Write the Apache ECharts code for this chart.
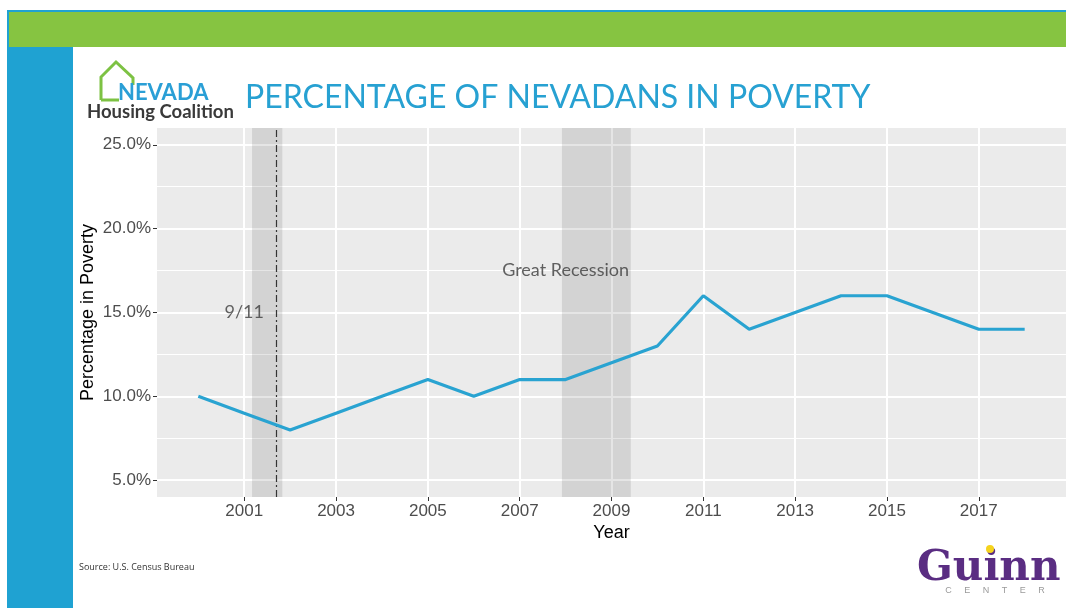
<!DOCTYPE html>
<html>
<head>
<meta charset="utf-8">
<script src="https://cdn.jsdelivr.net/npm/echarts@6/dist/echarts.min.js"></script>
<style>
  html, body { margin: 0; padding: 0; background: #fff; }
</style>
</head>
<body>
<div id="main" style="width: 1066px;height:608px;"></div>

<script type="text/javascript">
// data
var years = [2000, 2001, 2002, 2003, 2004, 2005, 2006, 2007, 2008, 2009,
             2010, 2011, 2012, 2013, 2014, 2015, 2016, 2017, 2018];
var poverty = [10, 9, 8, 9, 10, 11, 10, 11, 11, 12,
               13, 16, 14, 15, 16, 16, 15, 14, 14];
var yearTicks = [2001, 2003, 2005, 2007, 2009, 2011, 2013, 2015, 2017];
var pctTicks = [5, 10, 15, 20, 25];
var pctMinor = [7.5, 12.5, 17.5, 22.5];
// recession periods (fraction of year) and the 9/11 marker
var recessions = [[2001.17, 2001.83], [2007.92, 2009.42]];
var attackYear = 2001.69;
var noteText = ['9/11', 'Great Recession'];
var noteYear = [2001, 2008];
var notePct = [15, 17.5];

var myChart = echarts.init(document.getElementById('main'));

var lineData = years.map(function (y, i) { return [y, poverty[i]]; });
var notes = noteText.map(function (t, i) {
	return { name: t, value: [noteYear[i], notePct[i]] };
});

option = {
	animation: false,
	backgroundColor: '#fff',
	graphic: [
		// slide frame
		{ type: 'rect', z: -10, shape: { x: 7, y: 10, width: 1059, height: 598 }, style: { fill: '#1fa2d2' } },
		{ type: 'rect', z: -9, shape: { x: 9, y: 12, width: 1057, height: 35 }, style: { fill: '#86c441' } },
		{ type: 'rect', z: -9, shape: { x: 73, y: 47, width: 993, height: 561 }, style: { fill: '#fff' } },
		// Nevada Housing Coalition logo
		{ type: 'polyline', shape: { points: [[101, 100], [101, 77], [116, 62], [133, 78], [133, 85]] },
		  style: { stroke: '#7dc243', lineWidth: 3, fill: null } },
		{ type: 'polyline', shape: { points: [[101, 100], [119, 100]] },
		  style: { stroke: '#7dc243', lineWidth: 3, fill: null } },
		{ type: 'text', x: 118, y: 93, style: { text: 'NEVADA', fill: '#2a9fd6', font: 'bold 22px Lato', textVerticalAlign: 'middle' } },
		{ type: 'text', x: 87, y: 112, style: { text: 'Housing Coalition', fill: '#3a3a3a', font: 'bold 18.5px Lato', textVerticalAlign: 'middle' } },
		// title
		{ type: 'text', x: 245, y: 98, style: { text: 'PERCENTAGE OF NEVADANS IN POVERTY', fill: '#27a1d2', font: '32px Lato', textVerticalAlign: 'middle' } },
		// source
		{ type: 'text', x: 79, y: 567, style: { text: 'Source: U.S. Census Bureau', fill: '#333', font: '9px "Open Sans"', textVerticalAlign: 'middle' } },
		// Guinn Center logo
		{ type: 'text', x: 917, y: 569, style: { text: 'Guinn', fill: '#5a2d82', font: 'bold 42px "DejaVu Serif"', textVerticalAlign: 'middle' } },
		{ type: 'circle', shape: { cx: 990, cy: 549, r: 4 }, style: { fill: '#f5d31d' } },
		{ type: 'text', x: 995, y: 591, style: { text: 'C     E     N     T     E     R', fill: '#9a9a9a', font: '9px "Liberation Sans"', textAlign: 'center', textVerticalAlign: 'middle' } }
	],
	grid: {
		left: 157,
		top: 128,
		width: 910,
		height: 369,
		show: true,
		backgroundColor: '#ebebeb',
		borderWidth: 0
	},
	xAxis: {
		type: 'value',
		min: 1999.1,
		max: 2018.9,
		name: 'Year',
		nameLocation: 'middle',
		nameGap: 27,
		nameMoveOverlap: false,
		nameTextStyle: { fontSize: 18, color: '#000', fontFamily: 'Liberation Sans' },
		axisLine: { show: false },
		axisTick: { show: true, customValues: yearTicks, length: 4, lineStyle: { color: '#333' } },
		axisLabel: {
			customValues: yearTicks, fontSize: 17, color: '#4d4d4d', fontFamily: 'Liberation Sans', margin: 6,
			formatter: function (v) { return String(v); }
		},
		splitLine: { show: true, lineStyle: { color: '#fff', width: 2 } }
	},
	yAxis: [{
		type: 'value',
		min: 4,
		max: 26,
		name: 'Percentage in Poverty',
		nameLocation: 'middle',
		nameRotate: 90,
		nameGap: 60,
		nameMoveOverlap: false,
		nameTextStyle: { fontSize: 18, color: '#000', fontFamily: 'Liberation Sans' },
		axisLine: { show: false },
		axisTick: { show: true, customValues: pctTicks, length: 4, lineStyle: { color: '#333' } },
		axisLabel: {
			customValues: pctTicks, fontSize: 17, color: '#4d4d4d', fontFamily: 'Liberation Sans', margin: 6,
			formatter: function (v) { return v.toFixed(1) + '%'; }
		},
		splitLine: { show: true, lineStyle: { color: '#fff', width: 2 } }
	}, {
		// minor gridlines only
		type: 'value',
		min: 4,
		max: 26,
		position: 'left',
		axisLine: { show: false },
		axisTick: { show: false, customValues: pctMinor },
		axisLabel: { show: false, customValues: pctMinor },
		splitLine: { show: true, lineStyle: { color: '#fff', width: 1 } }
	}],
	series: [
		{
			name: 'Poverty',
			type: 'line',
			data: lineData,
			symbol: 'none',
			z: 5,
			lineStyle: { color: '#29a3d1', width: 3.2 },
			markArea: {
				silent: true,
				itemStyle: { color: 'rgba(0,0,0,0.1)' },
				data: recessions.map(function (r) { return [{ xAxis: r[0] }, { xAxis: r[1] }]; })
			},
			markLine: {
				silent: true,
				symbol: 'none',
				label: { show: false },
				lineStyle: { color: '#333', width: 1.2, type: [7, 3, 2, 3] },
				data: [{ xAxis: attackYear }]
			}
		},
		{
			name: 'notes',
			type: 'scatter',
			data: notes,
			symbolSize: 0,
			silent: true,
			label: {
				show: true,
				position: 'inside',
				formatter: '{b}',
				fontFamily: 'Lato',
				fontSize: 18,
				color: '#3c3c3c'
			}
		}
	]
};

myChart.setOption(option);
</script>
</body>
</html>
